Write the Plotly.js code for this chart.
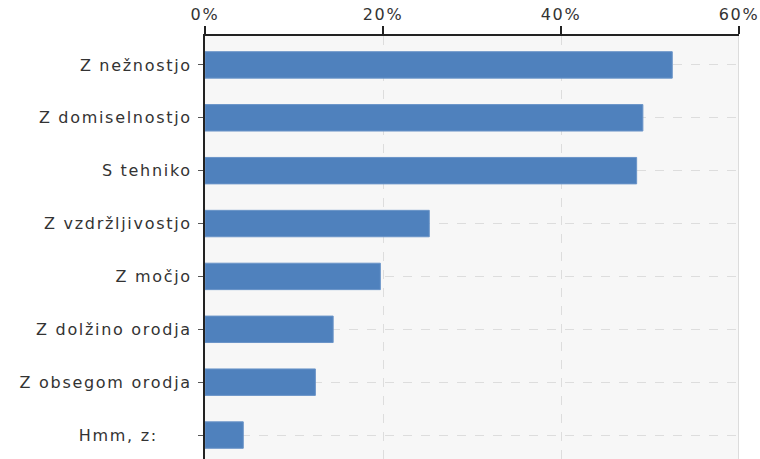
<!DOCTYPE html>
<html>
<head>
<meta charset="utf-8">
<script src="https://cdn.plot.ly/plotly-3.0.1.min.js"></script>
<style>
html,body{margin:0;padding:0;background:#fff;}
#chart{width:760px;height:459px;}
#chart .xtick text, #chart .ytick text{letter-spacing:1.7px;}
</style>
</head>
<body>
<div id="chart"></div>
<script>
const categories = ["Z nežnostjo", "Z domiselnostjo", "S tehniko", "Z vzdržljivostjo", "Z močjo", "Z dolžino orodja", "Z obsegom orodja", "Hmm, z:     "];
const values = [52.5, 49.2, 48.5, 25.2, 19.7, 14.4, 12.4, 4.3];
const tickVals = [0, 20, 40, 60];
const tickText = ["0%", "20%", "40%", "60%"];

const trace = {
  type: "bar",
  orientation: "h",
  y: categories,
  x: values,
  width: 0.5,
  marker: {color: "#4f81bd", line: {color: "#6a94c8", width: 1}},
  hoverinfo: "none"
};

const layout = {
  width: 760, height: 459,
  margin: {l: 205, r: 21, t: 36, b: 0, pad: 0},
  paper_bgcolor: "#ffffff",
  plot_bgcolor: "#f7f7f7",
  showlegend: false,
  font: {family: "DejaVu Sans", size: 16, color: "#333333"},
  xaxis: {
    side: "top", range: [0, 60], tickvals: tickVals, ticktext: tickText,
    ticks: "outside", ticklen: 8, tickwidth: 2, tickcolor: "#222",
    showline: true, linecolor: "#222", linewidth: 2, mirror: false,
    showgrid: true, gridcolor: "#dddddd", griddash: "dash", gridwidth: 1,
    zeroline: false, tickfont: {size: 16, color: "#333"}
  },
  yaxis: {
    type: "category", categoryorder: "array", categoryarray: categories,
    range: [7.453, -0.547],
    ticks: "outside", ticklen: 5, tickcolor: "#555", tickwidth: 1,
    showline: true, linecolor: "#222", linewidth: 2,
    showgrid: true, gridcolor: "#dddddd", griddash: "dash", gridwidth: 1,
    zeroline: false, tickfont: {size: 16, color: "#333"}, ticklabelstandoff: 3
  },
  shapes: [{type: "line", xref: "x", yref: "paper", x0: 60, x1: 60, y0: 0, y1: 1, line: {color: "#dcdcdc", width: 2}}]
};

Plotly.newPlot("chart", [trace], layout, {displayModeBar: false, staticPlot: true});
</script>
</body>
</html>
